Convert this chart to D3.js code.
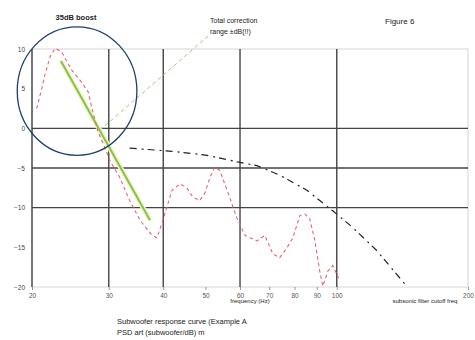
<!DOCTYPE html>
<html>
<head>
<meta charset="utf-8">
<script src="https://cdn.jsdelivr.net/npm/d3@7"></script>
<style>
  body { margin: 0; background: #fff; }
  svg { display: block; font-family: "Liberation Sans", Arial, sans-serif; }
</style>
</head>
<body>
<div id="chart"></div>
<script>
// measured response (Hz, dB)
const respFreq = [20.5, 21.1, 21.4, 22.0, 22.6, 23.4, 24.7, 26.0, 26.9, 27.4, 28.3, 29.4, 30.2, 31.8, 33.5, 35.4, 37.7, 38.7, 39.7, 41.0, 41.9, 43.7, 45.3, 46.8, 48.5, 49.8, 51.2, 52.5, 53.9, 56.3, 59.0, 61.6, 65.6, 68.4, 71.3, 74.0, 76.8, 79.3, 82.3, 84.5, 86.7, 89.1, 91.4, 92.9, 95.4, 97.9, 101];
const respDb = [2.5, 5.2, 6.7, 9.0, 10.1, 9.6, 7.3, 5.8, 4.6, 2.7, -0.3, -2.5, -4.1, -6.2, -9.1, -11.6, -13.5, -13.8, -12.0, -9.5, -7.8, -7.0, -7.5, -8.7, -9.1, -8.2, -6.2, -4.9, -5.3, -8.1, -11.3, -13.5, -14.2, -13.5, -15.8, -16.3, -15.1, -13.8, -11.0, -10.8, -11.4, -14.2, -18.0, -19.9, -18.0, -17.3, -18.9];

// target roll-off curve
const targetFreq = [33.5, 42.1, 50.4, 60.0, 65.6, 74.0, 85.4, 97.9, 108.8, 123.5, 144.7];
const targetDb = [-2.5, -2.9, -3.4, -4.3, -4.7, -5.9, -7.8, -10.4, -12.5, -15.4, -19.9];

// correction slope (green)
const slopeFreq = [23.3, 37.3];
const slopeDb = [8.5, -11.6];

// pointer from circle to "Total correction" label
const pointerFreq = [28.6, 50.6];
const pointerDb = [-0.25, 11.6];

// circle around the boost region: [left, right] Hz, [top, bottom] dB
const ringFreq = [18.5, 34.8];
const ringDb = [12.8, -3.4];

const xTicks = [20, 30, 40, 50, 60, 70, 80, 90, 100, 200];
const xGrid = [30, 40, 60, 100];
const yTicks = [10, 5, 0, -5, -10, -15, -20];
const yGrid = [0, -5, -10];

const width = 475, height = 340;

const svg = d3.select('#chart').append('svg')
  .attr('width', width)
  .attr('height', height);

const x = d3.scaleLog().domain([20, 200]).range([32, 468]);
const y = d3.scaleLinear().domain([-20, 10]).range([287, 49]);

// light outer frame
svg.append('rect')
  .attr('x', x(20)).attr('y', y(10))
  .attr('width', x(200) - x(20)).attr('height', y(-20) - y(10))
  .attr('fill', 'none').attr('stroke', '#d4d4d4').attr('stroke-width', 1);

// dark grid lines
svg.append('g').selectAll('line')
  .data(xGrid.concat([20]))
  .join('line')
  .attr('x1', d => x(d)).attr('x2', d => x(d))
  .attr('y1', y(10)).attr('y2', y(-20))
  .attr('stroke', '#444').attr('stroke-width', 1.4);

svg.append('g').selectAll('line')
  .data(yGrid)
  .join('line')
  .attr('x1', x(20)).attr('x2', x(200))
  .attr('y1', d => y(d)).attr('y2', d => y(d))
  .attr('stroke', '#444').attr('stroke-width', 1.4);

// axes labels
const xAxis = svg.append('g')
  .attr('transform', 'translate(0,' + y(-20) + ')')
  .call(d3.axisBottom(x).tickValues(xTicks).tickFormat(d3.format('d')).tickSize(3).tickPadding(3));
xAxis.select('.domain').remove();
xAxis.selectAll('line').attr('stroke', '#999');
xAxis.selectAll('text').attr('fill', '#555').style('font-size', '6.5px');

const yAxis = svg.append('g')
  .attr('transform', 'translate(' + x(20) + ',0)')
  .call(d3.axisLeft(y).tickValues(yTicks).tickSize(0).tickPadding(7));
yAxis.select('.domain').remove();
yAxis.selectAll('text').attr('fill', '#444').style('font-size', '6.5px');

// green pointer to total-correction note
svg.append('line')
  .attr('x1', x(pointerFreq[0])).attr('y1', y(pointerDb[0]))
  .attr('x2', x(pointerFreq[1])).attr('y2', y(pointerDb[1]))
  .attr('stroke', '#9ccc80').attr('stroke-width', 1)
  .attr('stroke-dasharray', '4,3');

// correction slope, with soft halo
const slopeLine = d3.line().x((d, i) => x(slopeFreq[i])).y(d => y(d));
svg.append('path')
  .attr('d', slopeLine(slopeDb))
  .attr('fill', 'none').attr('stroke', '#f2f5cc').attr('stroke-width', 5);
svg.append('path')
  .attr('d', slopeLine(slopeDb))
  .attr('fill', 'none').attr('stroke', '#86c24a').attr('stroke-width', 2);

// target curve
svg.append('path')
  .attr('d', d3.line().x((d, i) => x(targetFreq[i])).y(d => y(d))(targetDb))
  .attr('fill', 'none').attr('stroke', '#222').attr('stroke-width', 1.2)
  .attr('stroke-dasharray', '7,5,2,4');

// measured response
svg.append('path')
  .attr('d', d3.line().x((d, i) => x(respFreq[i])).y(d => y(d))(respDb))
  .attr('fill', 'none').attr('stroke', '#ea6272').attr('stroke-width', 1.1)
  .attr('stroke-dasharray', '3.5,3');

// ring round the bass boost
svg.append('ellipse')
  .attr('cx', (x(ringFreq[0]) + x(ringFreq[1])) / 2)
  .attr('cy', (y(ringDb[0]) + y(ringDb[1])) / 2)
  .attr('rx', (x(ringFreq[1]) - x(ringFreq[0])) / 2)
  .attr('ry', (y(ringDb[1]) - y(ringDb[0])) / 2)
  .attr('fill', 'none').attr('stroke', '#1e3f6e').attr('stroke-width', 1.3);

// notes
const note = (tx, ty, str, size, anchor, weight) => svg.append('text')
  .attr('x', tx).attr('y', ty)
  .attr('text-anchor', anchor || 'start')
  .style('font-size', size + 'px')
  .style('font-weight', weight || 'normal')
  .attr('fill', '#222')
  .text(str);

note(76, 20, '35dB boost', 7.5, 'middle', 'bold');
note(210, 23, 'Total correction', 7, 'start');
note(210, 34, 'range ±dB(!!)', 7, 'start');
note(385, 24, 'Figure 6', 8, 'start');
note(250, 303, 'frequency (Hz)', 6, 'middle');
note(425, 303, 'subsonic filter cutoff freq', 6, 'middle');
note(117, 324, 'Subwoofer response curve (Example A', 7.5, 'start');
note(117, 335, 'PSD art (subwoofer/dB) m', 7.5, 'start');
</script>
</body>
</html>
